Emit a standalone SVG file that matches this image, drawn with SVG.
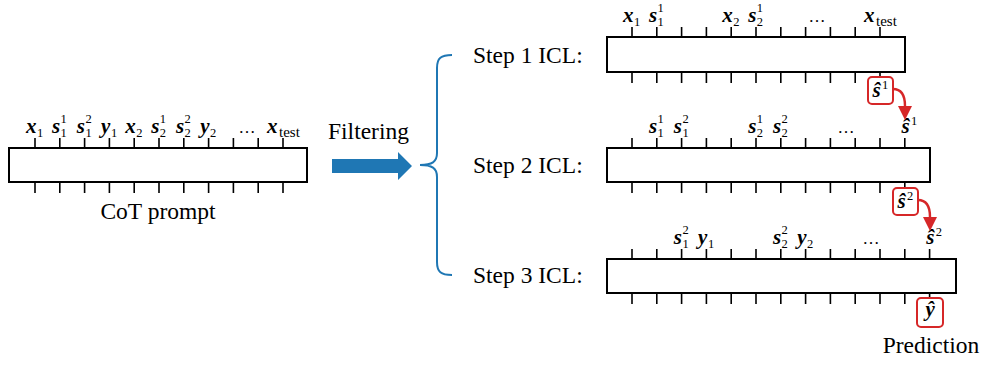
<svg xmlns="http://www.w3.org/2000/svg" width="982" height="365" viewBox="0 0 982 365">
<defs>
<style>
.box{fill:#fff;stroke:#000;stroke-width:2}
.tk{fill:none;stroke:#000;stroke-width:1.6}
.m{font-family:"Liberation Serif",serif;font-weight:bold;font-style:italic;font-size:21px;fill:#000}
.sc{font-family:"Liberation Serif",serif;font-size:12.5px;fill:#000}
.te{font-family:"Liberation Serif",serif;font-size:15px;fill:#000}
.dots{font-family:"Liberation Serif",serif;font-size:17px;fill:#000;text-anchor:middle}
.t{font-family:"Liberation Serif",serif;font-size:23.5px;fill:#000}
.rb{fill:#fff;stroke:#d62728;stroke-width:2}
.ra{fill:none;stroke:#d62728;stroke-width:2.4}
.blue{fill:#1f77b4}
.brace{fill:none;stroke:#1f77b4;stroke-width:2}
</style>
<marker id="rh" viewBox="0 0 10 10" refX="0" refY="5" markerUnits="userSpaceOnUse" markerWidth="14" markerHeight="14" orient="auto">
<path d="M0,0 L10,5 L0,10 z" fill="#d62728"/>
</marker>
</defs>
<rect width="982" height="365" fill="#fff"/>

<g id="cot-prompt">
<rect class="box" x="9" y="148" width="298" height="34"/>
<path class="tk" d="M35,138v10M59.8,138v10M84.6,138v10M109.4,138v10M134.2,138v10M159,138v10M183.8,138v10M208.6,138v10M233.4,138v10M258.2,138v10M283,138v10M35,182v11M59.8,182v11M84.6,182v11M109.4,182v11M134.2,182v11M159,182v11M183.8,182v11M208.6,182v11M233.4,182v11M258.2,182v11M283,182v11"/>
<text class="m" x="26" y="133">x</text><text class="sc" x="37" y="137">1</text>
<text class="m" x="52" y="133">s</text><text class="sc" x="60.6" y="123">1</text><text class="sc" x="60.6" y="137">1</text>
<text class="m" x="76.8" y="133">s</text><text class="sc" x="85.4" y="123">2</text><text class="sc" x="85.4" y="137">1</text>
<text class="m" x="101.1" y="133">y</text><text class="sc" x="110.9" y="137">1</text>
<text class="m" x="125.2" y="133">x</text><text class="sc" x="136.2" y="137">2</text>
<text class="m" x="151.2" y="133">s</text><text class="sc" x="159.8" y="123">1</text><text class="sc" x="159.8" y="137">2</text>
<text class="m" x="176" y="133">s</text><text class="sc" x="184.6" y="123">2</text><text class="sc" x="184.6" y="137">2</text>
<text class="m" x="200.3" y="133">y</text><text class="sc" x="210.1" y="137">2</text>
<text class="dots" x="247" y="133">…</text>
<text class="m" x="267" y="133">x</text><text class="te" x="279" y="137">test</text>
<text class="t" x="158" y="219" text-anchor="middle">CoT prompt</text>
</g>

<g id="filtering">
<text class="t" x="328" y="139">Filtering</text>
<path class="blue" d="M332,159H398V152L412,166L398,180V173H332z"/>
</g>

<g id="brace">
<path class="brace" d="M452,55C441,55 437,58 437,68L437,153C437,162 432,165 420,165C432,165 437,168 437,177L437,262C437,272 441,275 452,275"/>
</g>

<g id="step1">
<text class="t" x="473" y="63">Step 1 ICL:</text>
<rect class="box" x="607" y="37" width="298" height="35"/>
<path class="tk" d="M632,27v10M656.8,27v10M681.6,27v10M706.4,27v10M731.2,27v10M756,27v10M780.8,27v10M805.6,27v10M830.4,27v10M855.2,27v10M880,27v10M632,72v11M656.8,72v11M681.6,72v11M706.4,72v11M731.2,72v11M756,72v11M780.8,72v11M805.6,72v11M830.4,72v11M855.2,72v11M880,72v11"/>
<text class="m" x="623" y="22">x</text><text class="sc" x="634" y="26">1</text>
<text class="m" x="649" y="22">s</text><text class="sc" x="657.6" y="12">1</text><text class="sc" x="657.6" y="26">1</text>
<text class="m" x="722.2" y="22">x</text><text class="sc" x="733.2" y="26">2</text>
<text class="m" x="748.2" y="22">s</text><text class="sc" x="756.8" y="12">1</text><text class="sc" x="756.8" y="26">2</text>
<text class="dots" x="817" y="22">…</text>
<text class="m" x="864" y="22">x</text><text class="te" x="876" y="26">test</text>
</g>

<g id="step2">
<text class="t" x="473" y="173">Step 2 ICL:</text>
<rect class="box" x="607" y="148" width="323" height="34"/>
<path class="tk" d="M632,138v10M656.8,138v10M681.6,138v10M706.4,138v10M731.2,138v10M756,138v10M780.8,138v10M805.6,138v10M830.4,138v10M855.2,138v10M880,138v10M904.8,138v10M632,182v11M656.8,182v11M681.6,182v11M706.4,182v11M731.2,182v11M756,182v11M780.8,182v11M805.6,182v11M830.4,182v11M855.2,182v11M880,182v11M904.8,182v11"/>
<text class="m" x="649" y="133">s</text><text class="sc" x="657.6" y="123">1</text><text class="sc" x="657.6" y="137">1</text>
<text class="m" x="673.8" y="133">s</text><text class="sc" x="682.4" y="123">2</text><text class="sc" x="682.4" y="137">1</text>
<text class="m" x="748.2" y="133">s</text><text class="sc" x="756.8" y="123">1</text><text class="sc" x="756.8" y="137">2</text>
<text class="m" x="773" y="133">s</text><text class="sc" x="781.6" y="123">2</text><text class="sc" x="781.6" y="137">2</text>
<text class="dots" x="846" y="133">…</text>
<text class="m" x="901.5" y="133">ŝ</text><text class="sc" x="911" y="125">1</text>
</g>

<g id="step3">
<text class="t" x="473" y="283">Step 3 ICL:</text>
<rect class="box" x="607" y="259" width="349" height="34"/>
<path class="tk" d="M632,249v10M656.8,249v10M681.6,249v10M706.4,249v10M731.2,249v10M756,249v10M780.8,249v10M805.6,249v10M830.4,249v10M855.2,249v10M880,249v10M904.8,249v10M929.6,249v10M632,293v11M656.8,293v11M681.6,293v11M706.4,293v11M731.2,293v11M756,293v11M780.8,293v11M805.6,293v11M830.4,293v11M855.2,293v11M880,293v11M904.8,293v11M929.6,293v11"/>
<text class="m" x="673.8" y="244">s</text><text class="sc" x="682.4" y="234">2</text><text class="sc" x="682.4" y="248">1</text>
<text class="m" x="698.1" y="244">y</text><text class="sc" x="707.9" y="248">1</text>
<text class="m" x="773" y="244">s</text><text class="sc" x="781.6" y="234">2</text><text class="sc" x="781.6" y="248">2</text>
<text class="m" x="797.3" y="244">y</text><text class="sc" x="807.1" y="248">2</text>
<text class="dots" x="871" y="244">…</text>
<text class="m" x="926.3" y="244">ŝ</text><text class="sc" x="935.8" y="236">2</text>
</g>

<g id="s1-hat">
<rect class="rb" x="868" y="77" width="25" height="27" rx="4"/>
<text class="m" x="872.5" y="97">ŝ</text><text class="sc" x="882" y="89">1</text>
</g>

<g id="s2-hat">
<rect class="rb" x="893" y="188" width="25" height="27" rx="4"/>
<text class="m" x="897.5" y="208">ŝ</text><text class="sc" x="907" y="200">2</text>
</g>

<g id="y-hat">
<rect class="rb" x="917" y="298" width="26" height="29" rx="4"/>
<text class="m" x="925.4" y="316">ŷ</text>
<text class="t" x="931" y="353" text-anchor="middle">Prediction</text>
</g>

<g id="connectors">
<path class="ra" d="M893,89C902,89 905,96 905,106" marker-end="url(#rh)"/>
<path class="ra" d="M918,200C927,200 930,207 930,217" marker-end="url(#rh)"/>
</g>
</svg>
